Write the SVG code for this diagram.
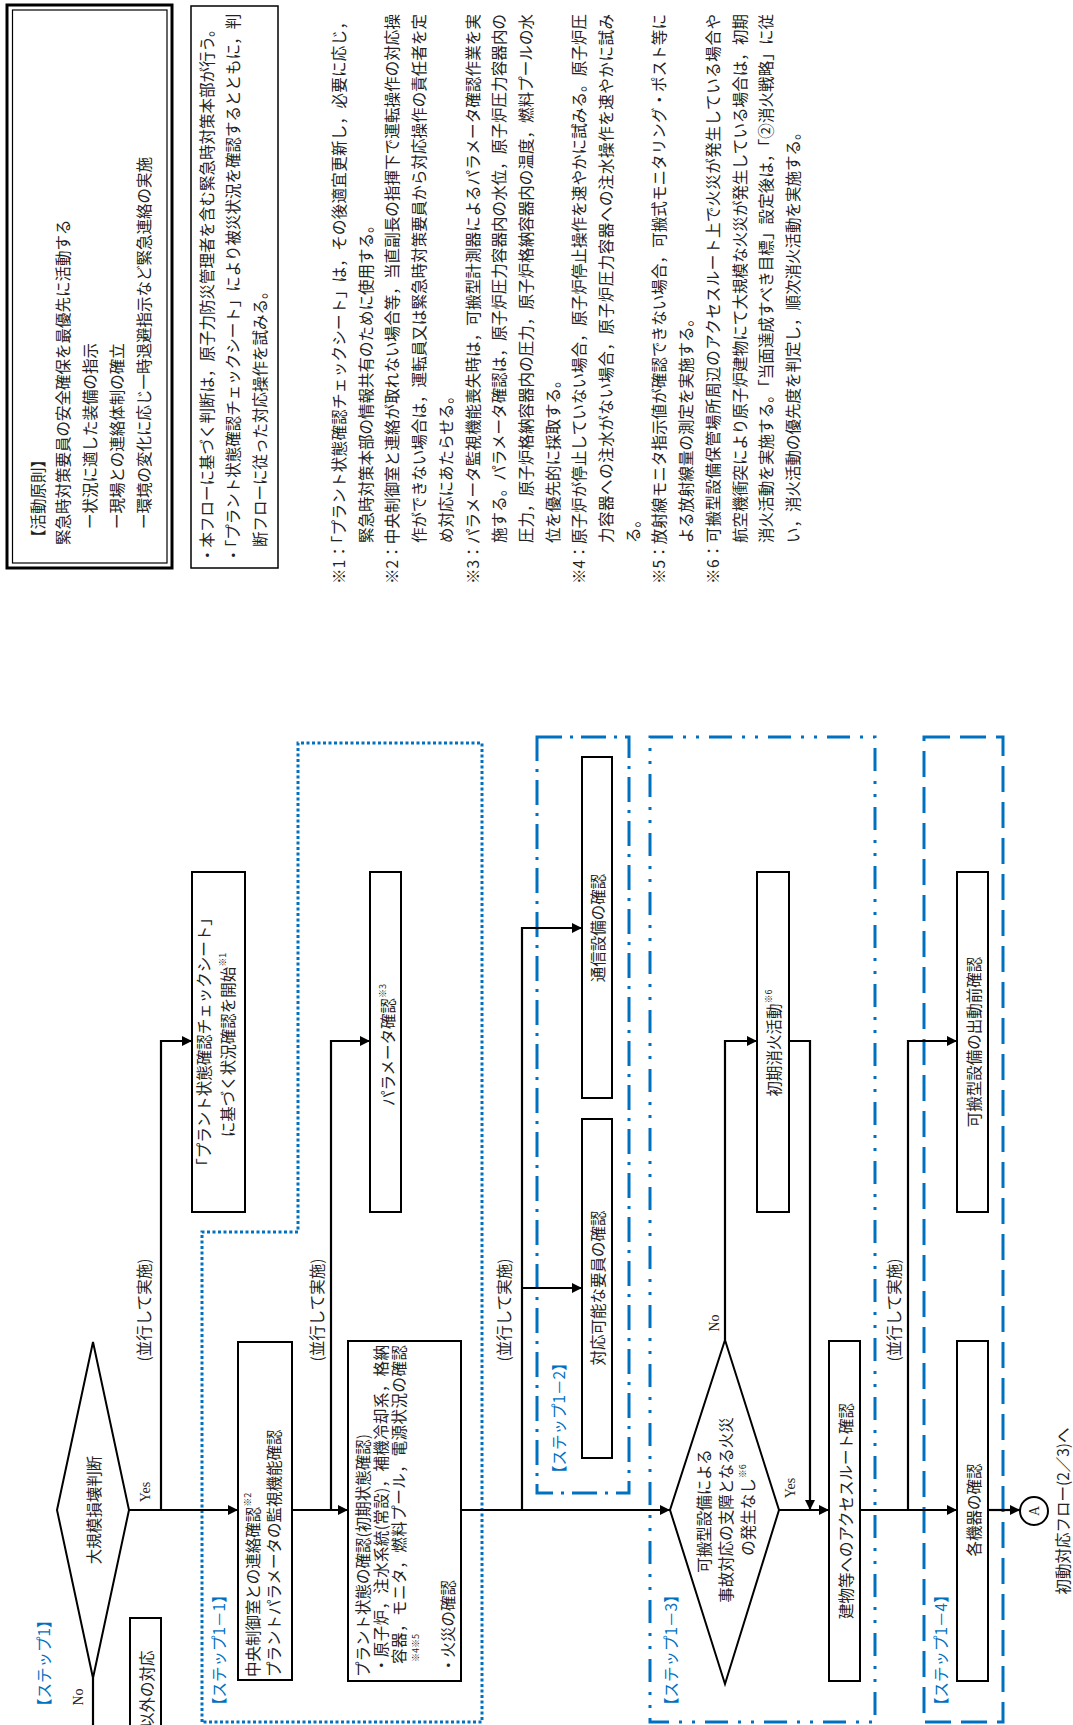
<svg xmlns="http://www.w3.org/2000/svg" width="1073" height="1725" viewBox="0 0 1073 1725">
<style>
.t{font-family:"Noto Sans CJK JP","Noto Sans",sans-serif;font-size:15.5px;fill:#222;dominant-baseline:central}
.m{text-anchor:middle}
.bl{fill:#0070C0}
.s{font-family:"Liberation Serif","Noto Sans CJK JP",serif;font-size:14px;fill:#222;dominant-baseline:central}
.box{fill:#fff;stroke:#000;stroke-width:2}
.ln{fill:none;stroke:#000;stroke-width:2.2}
.arr{marker-end:url(#ah)}
.st{fill:none;stroke:#0070C0;stroke-width:3}
.sup{font-size:9px}
</style>
<defs>
<marker id="ah" markerUnits="userSpaceOnUse" markerWidth="11" markerHeight="11" refX="10" refY="5" orient="auto">
<path d="M0,0 L10,5 L0,10 z" fill="#000"/>
</marker>
</defs>
<rect width="1073" height="1725" fill="#fff"/>

<!-- principles box -->
<g id="principles">
<rect x="7" y="5" width="165" height="563" fill="none" stroke="#000" stroke-width="3"/>
<rect x="12.5" y="10" width="154.5" height="553" fill="none" stroke="#000" stroke-width="1.2"/>
<text class="t" transform="translate(37,545) rotate(-90)">【活動原則】</text>
<text class="t" transform="translate(62,545) rotate(-90)">緊急時対策要員の安全確保を最優先に活動する</text>
<text class="t" transform="translate(89,529) rotate(-90)">ー状況に適した装備の指示</text>
<text class="t" transform="translate(116,529) rotate(-90)">ー現場との連絡体制の確立</text>
<text class="t" transform="translate(143,529) rotate(-90)">ー環境の変化に応じ一時退避指示など緊急連絡の実施</text>
</g>

<g id="flow-note">
<rect x="191" y="6" width="87" height="562" fill="none" stroke="#000" stroke-width="1.5"/>
<text class="t" transform="translate(206,563) rotate(-90)">・本フローに基づく判断は，原子力防災管理者を含む緊急時対策本部が行う。</text>
<text class="t" transform="translate(232,563) rotate(-90)">・「プラント状態確認チェックシート」により被災状況を確認するとともに，判</text>
<text class="t" transform="translate(259,547) rotate(-90)">断フローに従った対応操作を試みる。</text>
</g>

<g id="notes">
<text class="t" transform="translate(338,584) rotate(-90)" textLength="570" lengthAdjust="spacing">※1：「プラント状態確認チェックシート」は，その後適宜更新し，必要に応じ，</text>
<text class="t" transform="translate(365,543) rotate(-90)">緊急時対策本部の情報共有のために使用する。</text>
<text class="t" transform="translate(391,584) rotate(-90)" textLength="570" lengthAdjust="spacing">※2：中央制御室と連絡が取れない場合等，当直副長の指揮下で運転操作の対応操</text>
<text class="t" transform="translate(418,543) rotate(-90)" textLength="529" lengthAdjust="spacing">作ができない場合は，運転員又は緊急時対策要員から対応操作の責任者を定</text>
<text class="t" transform="translate(445,543) rotate(-90)">め対応にあたらせる。</text>
<text class="t" transform="translate(471.5,584) rotate(-90)" textLength="570" lengthAdjust="spacing">※3：パラメータ監視機能喪失時は，可搬型計測器によるパラメータ確認作業を実</text>
<text class="t" transform="translate(498,543) rotate(-90)" textLength="529" lengthAdjust="spacing">施する。パラメータ確認は，原子炉圧力容器内の水位，原子炉圧力容器内の</text>
<text class="t" transform="translate(525,543) rotate(-90)" textLength="529" lengthAdjust="spacing">圧力，原子炉格納容器内の圧力，原子炉格納容器内の温度，燃料プールの水</text>
<text class="t" transform="translate(552,543) rotate(-90)">位を優先的に採取する。</text>
<text class="t" transform="translate(578,584) rotate(-90)" textLength="570" lengthAdjust="spacing">※4：原子炉が停止していない場合，原子炉停止操作を速やかに試みる。原子炉圧</text>
<text class="t" transform="translate(605,543) rotate(-90)" textLength="529" lengthAdjust="spacing">力容器への注水がない場合，原子炉圧力容器への注水操作を速やかに試み</text>
<text class="t" transform="translate(632,543) rotate(-90)">る。</text>
<text class="t" transform="translate(658,584) rotate(-90)" textLength="570" lengthAdjust="spacing">※5：放射線モニタ指示値が確認できない場合，可搬式モニタリング・ポスト等に</text>
<text class="t" transform="translate(685,543) rotate(-90)">よる放射線量の測定を実施する。</text>
<text class="t" transform="translate(712,584) rotate(-90)" textLength="570" lengthAdjust="spacing">※6：可搬型設備保管場所周辺のアクセスルート上で火災が発生している場合や</text>
<text class="t" transform="translate(738.5,543) rotate(-90)" textLength="529" lengthAdjust="spacing">航空機衝突により原子炉建物にて大規模な火災が発生している場合は，初期</text>
<text class="t" transform="translate(765,543) rotate(-90)" textLength="529" lengthAdjust="spacing">消火活動を実施する。「当面達成すべき目標」設定後は，「②消火戦略」に従</text>
<text class="t" transform="translate(792,543) rotate(-90)">い，消火活動の優先度を判定し，順次消火活動を実施する。</text>
</g>

<!-- step frames -->
<g id="steps">
<path class="st" d="M202,1722 V1232 H298 V743 H482 V1722 Z" stroke-width="3.5" stroke-dasharray="3 2.5"/>
<rect class="st" x="537" y="737" width="92" height="756" stroke-dasharray="25 8 3 8"/>
<rect class="st" x="650" y="737" width="225" height="985" stroke-dasharray="23 10 3 10 3 10"/>
<rect class="st" x="924" y="737" width="79" height="985" stroke-dasharray="26 10"/>
<text class="t bl" transform="translate(43,1714) rotate(-90)">【ステップ1】</text>
<text class="t bl" transform="translate(218,1713) rotate(-90)">【ステップ1－1】</text>
<text class="t bl" transform="translate(558,1481) rotate(-90)">【ステップ1－2】</text>
<text class="t bl" transform="translate(670,1713) rotate(-90)">【ステップ1－3】</text>
<text class="t bl" transform="translate(940,1713) rotate(-90)">【ステップ1－4】</text>
</g>

<!-- connectors -->
<g id="connectors">
<path class="ln arr" d="M129,1510 H238"/>
<path class="ln arr" d="M161,1510 V1041 H192"/>
<path class="ln arr" d="M292,1510 H348"/>
<path class="ln arr" d="M331,1510 V1041 H370"/>
<path class="ln arr" d="M461,1510 H670"/>
<path class="ln arr" d="M522,1510 V928 H582"/>
<path class="ln arr" d="M522,1288 H582"/>
<path class="ln arr" d="M725,1340 V1041 H757"/>
<path class="ln arr" d="M789,1041 H810 V1510"/>
<path class="ln arr" d="M779,1510 H829"/>
<path class="ln arr" d="M860,1510 H957"/>
<path class="ln arr" d="M908,1510 V1041 H957"/>
<path class="ln arr" d="M988,1510 H1020"/>
<path class="ln" d="M93,1678 V1730"/>
<text class="s" transform="translate(145,1492) rotate(-90)" text-anchor="middle">Yes</text>
<text class="s" transform="translate(78,1697) rotate(-90)" text-anchor="middle">No</text>
<text class="s" transform="translate(790,1488) rotate(-90)" text-anchor="middle">Yes</text>
<text class="s" transform="translate(714,1323) rotate(-90)" text-anchor="middle">No</text>
<text class="t m" transform="translate(143,1310) rotate(-90)">(並行して実施)</text>
<text class="t m" transform="translate(316,1310) rotate(-90)">(並行して実施)</text>
<text class="t m" transform="translate(503,1310) rotate(-90)">(並行して実施)</text>
<text class="t m" transform="translate(893,1310) rotate(-90)">(並行して実施)</text>
</g>

<!-- nodes -->
<g id="judge-large">
<polygon class="box" points="93,1342 129,1510 93,1678 57,1510"/>
<text class="t m" transform="translate(93,1510) rotate(-90)">大規模損壊判断</text>
</g>
<g id="other-response">
<rect class="box" x="130" y="1618" width="31" height="120"/>
<text class="t" transform="translate(145.5,1728) rotate(-90)">以外の対応</text>
</g>
<g id="checksheet">
<rect class="box" x="192" y="872" width="53" height="340"/>
<text class="t m" transform="translate(203,1042) rotate(-90)">「プラント状態確認チェックシート」</text>
<text class="t m" transform="translate(227,1045) rotate(-90)">に基づく状況確認を開始<tspan class="sup" dy="-5">※1</tspan></text>
</g>
<g id="mcr-contact">
<rect class="box" x="238" y="1342" width="54" height="338"/>
<text class="t" transform="translate(252,1677) rotate(-90)">中央制御室との連絡確認<tspan class="sup" dy="-5">※2</tspan></text>
<text class="t" transform="translate(273,1677) rotate(-90)">プラントパラメータの監視機能確認</text>
</g>
<g id="plant-status">
<rect class="box" x="348" y="1341" width="113" height="340"/>
<text class="t" transform="translate(362,1677) rotate(-90)">プラント状態の確認(初期状態確認)</text>
<text class="t" transform="translate(380,1673) rotate(-90)" textLength="328" lengthAdjust="spacing">・原子炉，注水系統(常設)，補機冷却系，格納</text>
<text class="t" transform="translate(398,1664) rotate(-90)" textLength="319" lengthAdjust="spacing">容器，モニタ，燃料プール，電源状況の確認</text>
<text class="t sup" transform="translate(415,1662) rotate(-90)">※4※5</text>
<text class="t" transform="translate(447,1673) rotate(-90)">・火災の確認</text>
</g>
<g id="param-check">
<rect class="box" x="370" y="872" width="31" height="340"/>
<text class="t m" transform="translate(387,1045) rotate(-90)">パラメータ確認<tspan class="sup" dy="-5">※3</tspan></text>
</g>
<g id="comm-check">
<rect class="box" x="582" y="757" width="30" height="341"/>
<text class="t m" transform="translate(597,928) rotate(-90)">通信設備の確認</text>
</g>
<g id="staff-check">
<rect class="box" x="582" y="1119" width="30" height="339"/>
<text class="t m" transform="translate(597,1288) rotate(-90)">対応可能な要員の確認</text>
</g>
<g id="judge-fire">
<polygon class="box" points="725,1340 779,1510 725,1684 670,1510"/>
<text class="t m" transform="translate(703,1511) rotate(-90)">可搬型設備による</text>
<text class="t m" transform="translate(725,1510) rotate(-90)">事故対応の支障となる火災</text>
<text class="t m" transform="translate(747,1510) rotate(-90)">の発生なし<tspan class="sup" dy="-5">※6</tspan></text>
</g>
<g id="initial-fire">
<rect class="box" x="757" y="872" width="32" height="340"/>
<text class="t m" transform="translate(773,1043) rotate(-90)">初期消火活動<tspan class="sup" dy="-5">※6</tspan></text>
</g>
<g id="access-route">
<rect class="box" x="829" y="1341" width="31" height="340"/>
<text class="t m" transform="translate(845,1511) rotate(-90)">建物等へのアクセスルート確認</text>
</g>
<g id="portable-check">
<rect class="box" x="957" y="872" width="31" height="340"/>
<text class="t m" transform="translate(973,1042) rotate(-90)">可搬型設備の出動前確認</text>
</g>
<g id="equipment-check">
<rect class="box" x="957" y="1341" width="31" height="340"/>
<text class="t m" transform="translate(973,1510) rotate(-90)">各機器の確認</text>
</g>
<g id="connector-A">
<circle cx="1034" cy="1511" r="14" fill="#fff" stroke="#000" stroke-width="2"/>
<text class="s" transform="translate(1034,1511) rotate(-90)" text-anchor="middle" font-size="16">A</text>
<text class="t m" transform="translate(1062,1511) rotate(-90)" font-size="15">初動対応フロー(2／3)へ</text>
</g>
</svg>
